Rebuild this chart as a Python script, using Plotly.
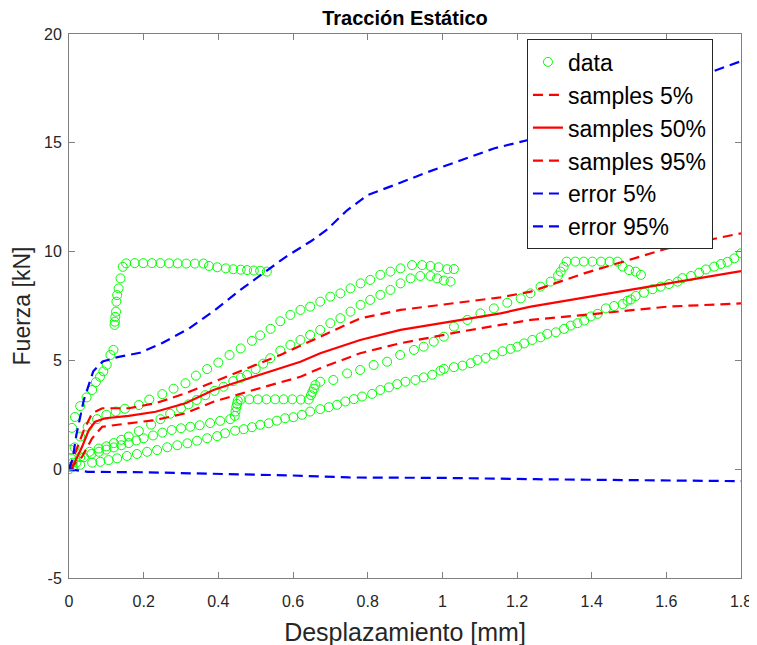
import plotly.graph_objects as go

# ---------------- data ----------------
a_x = [0.0, 0.004, 0.008, 0.016, 0.03, 0.047, 0.062, 0.072, 0.083, 0.092, 0.101, 0.111, 0.119,
       0.122, 0.123, 0.124, 0.126, 0.127, 0.129, 0.133, 0.138, 0.144, 0.153, 0.176, 0.199, 0.222,
       0.245, 0.268, 0.291, 0.314, 0.337, 0.36, 0.375, 0.397, 0.42, 0.44, 0.46, 0.477, 0.495, 0.512, 0.53]
a_y = [0.1, 0.9, 1.9, 2.4, 2.9, 3.3, 3.64, 4.0, 4.25, 4.5, 4.79, 5.25, 5.48,
       6.63, 6.78, 7.0, 7.24, 7.7, 8.0, 8.31, 8.77, 9.3, 9.46, 9.47, 9.47, 9.47,
       9.47, 9.46, 9.46, 9.45, 9.45, 9.45, 9.34, 9.28, 9.23, 9.19, 9.17, 9.15, 9.13, 9.12, 9.08]

b1_x = [0.005, 0.015, 0.03, 0.05, 0.075, 0.1, 0.125, 0.15, 0.187, 0.215, 0.25, 0.28, 0.312, 0.34,
        0.37, 0.4, 0.43, 0.46, 0.49, 0.512, 0.54, 0.566, 0.593, 0.62, 0.646, 0.673, 0.7, 0.727,
        0.754, 0.781, 0.807, 0.834, 0.861, 0.888, 0.919, 0.946, 0.968, 0.99, 1.013, 1.031]
b1_y = [0.5, 1.0, 1.5, 1.95, 2.3, 2.5, 2.65, 2.78, 2.95, 3.2, 3.45, 3.7, 3.95, 4.3,
        4.6, 4.9, 5.25, 5.55, 5.9, 6.15, 6.45, 6.8, 7.09, 7.32, 7.47, 7.7, 7.93, 8.08,
        8.31, 8.54, 8.7, 8.93, 9.08, 9.23, 9.38, 9.38, 9.34, 9.28, 9.19, 9.2]

b2_x = [0.01, 0.03, 0.055, 0.08, 0.1, 0.12, 0.14, 0.16, 0.187, 0.22, 0.245, 0.271, 0.3, 0.32,
        0.342, 0.365, 0.39, 0.414, 0.44, 0.46, 0.477, 0.5, 0.52, 0.539, 0.566, 0.593, 0.62,
        0.646, 0.673, 0.7, 0.727, 0.754, 0.781, 0.807, 0.834, 0.861, 0.888, 0.915, 0.941,
        0.968, 0.986, 1.004, 1.022]
b2_y = [0.3, 0.55, 0.8, 0.95, 1.05, 1.2, 1.35, 1.5, 1.75, 2.05, 2.3, 2.55, 2.8, 2.98,
        3.18, 3.4, 3.6, 3.79, 4.05, 4.2, 4.33, 4.6, 4.85, 5.1, 5.45, 5.71, 5.94,
        6.17, 6.4, 6.71, 6.94, 7.24, 7.55, 7.78, 8.01, 8.24, 8.54, 8.77, 8.88,
        8.88, 8.77, 8.67, 8.62]

c_x = [0.0, 0.02, 0.04, 0.06, 0.08, 0.1, 0.12, 0.14, 0.16, 0.18, 0.2, 0.225, 0.25, 0.275, 0.3,
       0.325, 0.35, 0.378, 0.405, 0.432, 0.444, 0.446, 0.448, 0.45, 0.452, 0.46, 0.483, 0.506,
       0.529, 0.552, 0.575, 0.598, 0.621, 0.642, 0.648, 0.652, 0.656, 0.66, 0.673, 0.708, 0.745,
       0.78, 0.816, 0.852, 0.887, 0.924, 0.95, 0.977, 1.004, 1.031, 1.067, 1.102, 1.138, 1.174,
       1.21, 1.236, 1.263, 1.29, 1.31, 1.317, 1.325, 1.333, 1.356, 1.379, 1.402, 1.425, 1.448,
       1.469, 1.483, 1.5, 1.518, 1.532]
c_y = [0.0, 0.3, 0.55, 0.7, 0.8, 0.9, 1.0, 1.1, 1.2, 1.32, 1.42, 1.55, 1.68, 1.8, 1.88,
       1.95, 2.02, 2.12, 2.22, 2.3, 2.45, 2.65, 2.85, 3.0, 3.15, 3.2, 3.21, 3.21,
       3.21, 3.21, 3.21, 3.21, 3.2, 3.2, 3.4, 3.55, 3.7, 3.87, 4.02, 4.1, 4.4,
       4.56, 4.79, 4.94, 5.25, 5.48, 5.63, 5.86, 6.09, 6.55, 6.86, 7.16, 7.39, 7.65,
       7.85, 8.08, 8.39, 8.62, 8.9, 9.08, 9.3, 9.54, 9.54, 9.54, 9.54, 9.54, 9.54,
       9.54, 9.31, 9.15, 9.08, 8.93]

d_x = [0.01, 0.03, 0.062, 0.084, 0.106, 0.129, 0.155, 0.182, 0.209, 0.236, 0.263, 0.29, 0.317,
       0.343, 0.37, 0.397, 0.418, 0.445, 0.468, 0.49, 0.512, 0.535, 0.557, 0.579, 0.601, 0.624,
       0.646, 0.673, 0.696, 0.718, 0.74, 0.763, 0.785, 0.812, 0.834, 0.857, 0.879, 0.901, 0.928,
       0.95, 0.973, 0.995, 1.004, 1.031, 1.054, 1.076, 1.094, 1.116, 1.138, 1.161, 1.183, 1.201,
       1.219, 1.241, 1.263, 1.281, 1.304, 1.326, 1.344, 1.362, 1.38, 1.398, 1.416, 1.438, 1.46,
       1.483, 1.496, 1.505, 1.518, 1.54, 1.563, 1.585, 1.607, 1.63, 1.643, 1.666, 1.688, 1.706,
       1.728, 1.746, 1.764, 1.782, 1.8]
d_y = [0.1, 0.2, 0.3, 0.34, 0.42, 0.5, 0.61, 0.7, 0.8, 0.88, 1.01, 1.1, 1.19,
       1.31, 1.42, 1.52, 1.65, 1.77, 1.84, 1.93, 2.04, 2.11, 2.23, 2.34, 2.39, 2.5,
       2.65, 2.76, 2.85, 2.96, 3.11, 3.22, 3.34, 3.46, 3.64, 3.76, 3.91, 4.02, 4.1,
       4.22, 4.34, 4.53, 4.61, 4.69, 4.76, 4.87, 5.02, 5.11, 5.26, 5.42, 5.53, 5.63,
       5.78, 5.94, 6.06, 6.22, 6.29, 6.45, 6.6, 6.71, 6.83, 7.02, 7.14, 7.39, 7.5,
       7.59, 7.74, 7.8, 7.96, 8.11, 8.27, 8.39, 8.51, 8.62, 8.78, 8.88, 9.03, 9.18,
       9.31, 9.43, 9.53, 9.69, 9.92]

s05_x = [0.0, 0.035, 0.062, 0.089, 0.16, 0.232, 0.312, 0.387, 0.494, 0.566, 0.62, 0.673, 0.78,
         0.888, 1.049, 1.156, 1.237, 1.38, 1.603, 1.8]
s05_y = [0.0, 0.57, 1.42, 1.95, 2.11, 2.26, 2.57, 3.1, 3.64, 4.0, 4.25, 4.64, 5.33,
         5.79, 6.32, 6.63, 6.86, 7.09, 7.47, 7.62]

s50_x = [0.0, 0.008, 0.035, 0.053, 0.07, 0.097, 0.16, 0.232, 0.312, 0.387, 0.494, 0.566, 0.62,
         0.673, 0.78, 0.888, 1.049, 1.156, 1.237, 1.8]
s50_y = [0.0, 0.04, 1.03, 1.8, 2.18, 2.34, 2.45, 2.64, 3.03, 3.64, 4.25, 4.64, 4.94,
         5.33, 5.94, 6.4, 6.86, 7.16, 7.47, 9.1]

s95_x = [0.0, 0.02, 0.04, 0.062, 0.089, 0.16, 0.232, 0.312, 0.566, 0.673, 0.78, 0.888, 0.995,
         1.102, 1.156, 1.237, 1.38, 1.603, 1.8]
s95_y = [0.0, 0.9, 1.8, 2.57, 2.8, 2.8, 3.03, 3.49, 5.25, 6.09, 6.93, 7.32, 7.55,
         7.78, 7.9, 8.16, 9.0, 10.15, 10.84]

e05_x = [0.0, 0.05, 0.2, 0.4, 0.6, 0.75, 1.0, 1.25, 1.5, 1.8]
e05_y = [0.0, -0.12, -0.14, -0.2, -0.29, -0.38, -0.4, -0.46, -0.5, -0.55]

e95_x = [0.0, 0.01, 0.02, 0.04, 0.065, 0.09, 0.13, 0.19, 0.25, 0.32, 0.39, 0.46, 0.52, 0.58,
         0.65, 0.69, 0.745, 0.8, 0.87, 0.96, 1.05, 1.14, 1.23, 1.5, 1.8]
e95_y = [0.0, 0.5, 1.6, 3.2, 4.5, 4.95, 5.15, 5.35, 5.8, 6.45, 7.3, 8.25, 9.0, 9.75,
         10.5, 11.0, 11.9, 12.6, 13.05, 13.65, 14.2, 14.75, 15.13, 16.9, 18.75]

x_ticks = [0, 0.2, 0.4, 0.6, 0.8, 1.0, 1.2, 1.4, 1.6, 1.8]
x_tick_labels = ["0", "0.2", "0.4", "0.6", "0.8", "1", "1.2", "1.4", "1.6", "1.8"]
y_ticks = [-5, 0, 5, 10, 15, 20]
y_tick_labels = ["-5", "0", "5", "10", "15", "20"]

# ---------------- figure ----------------
data_x = a_x + b1_x + b2_x + c_x + d_x
data_y = a_y + b1_y + b2_y + c_y + d_y

fig = go.Figure()
fig.add_trace(go.Scatter(
    x=data_x, y=data_y, mode="markers", name="data",
    marker=dict(symbol="circle-open", size=9, color="#00ff00", line=dict(width=1, color="#00ff00")),
))
dash = "10px,6px"
fig.add_trace(go.Scatter(x=s05_x, y=s05_y, mode="lines", name="samples 5%",
                         line=dict(color="#ff0000", width=2.2, dash=dash)))
fig.add_trace(go.Scatter(x=s50_x, y=s50_y, mode="lines", name="samples 50%",
                         line=dict(color="#ff0000", width=2.2)))
fig.add_trace(go.Scatter(x=s95_x, y=s95_y, mode="lines", name="samples 95%",
                         line=dict(color="#ff0000", width=2.2, dash=dash)))
fig.add_trace(go.Scatter(x=e05_x, y=e05_y, mode="lines", name="error 5%",
                         line=dict(color="#0000ff", width=2.2, dash=dash)))
fig.add_trace(go.Scatter(x=e95_x, y=e95_y, mode="lines", name="error 95%",
                         line=dict(color="#0000ff", width=2.2, dash=dash)))

axis_common = dict(
    showgrid=False, zeroline=False, showline=True, linecolor="#808080", linewidth=1,
    mirror="allticks", ticks="inside", ticklen=6, tickcolor="#808080", tickwidth=1,
    automargin=False,
    tickfont=dict(family="Liberation Sans Narrow, Liberation Sans, Arial", size=16, color="#262626"),
)

fig.update_layout(
    width=749, height=645,
    margin=dict(l=61, r=16, t=26, b=75),
    paper_bgcolor="white", plot_bgcolor="white",
    font=dict(family="Liberation Sans, Arial", color="#262626"),
    title=dict(text="<b>Tracción Estático</b>", x=0.53, xanchor="center",
               y=0.995, yanchor="top", yref="container",
               font=dict(family="Liberation Sans, Arial", size=20, color="black")),
    xaxis=dict(range=[0, 1.8], tickvals=x_ticks, ticktext=x_tick_labels,
               ticklabelstandoff=9,
               title=dict(text="Desplazamiento [mm]", standoff=14,
                          font=dict(family="Liberation Sans, Arial", size=25, color="#262626")),
               **axis_common),
    yaxis=dict(range=[-5, 20], tickvals=y_ticks, ticktext=y_tick_labels,
               ticklabelstandoff=3,
               title=dict(text="Fuerza [kN]", standoff=6,
                          font=dict(family="Liberation Sans, Arial", size=23, color="#262626")),
               **axis_common),
    legend=dict(x=0.6815, y=0.99, xanchor="left", yanchor="top",
                bgcolor="white", bordercolor="#262626", borderwidth=1,
                font=dict(family="Liberation Sans, Arial", size=23, color="black"),
                itemwidth=30, tracegroupgap=0),
    showlegend=True,
)

fig.write_html("out.html")
